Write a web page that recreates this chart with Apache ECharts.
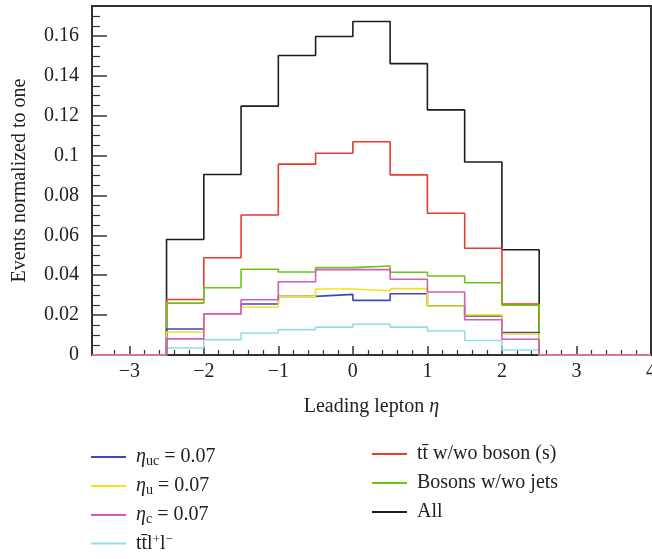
<!DOCTYPE html>
<html>
<head>
<meta charset="utf-8">
<script src="https://cdn.jsdelivr.net/npm/echarts@6/dist/echarts.min.js"></script>
<style>
html,body{margin:0;padding:0;background:#fff;}
#c{width:652px;height:559px;}
</style>
</head>
<body>
<div id="c"></div>
<script>
// Bin edges (leading lepton eta) and normalized event fractions per bin
const binEdges = [-2.5, -2, -1.5, -1, -0.5, 0, 0.5, 1, 1.5, 2, 2.5];
const xRange = [-3.5, 4];
const yRange = [0, 0.175];
const xMajorTicks = [-3, -2, -1, 0, 1, 2, 3, 4];
const yMajorTicks = [0, 0.02, 0.04, 0.06, 0.08, 0.1, 0.12, 0.14, 0.16];

const allEvents = [0.0579, 0.0905, 0.1248, 0.1502, 0.1597, 0.1672, 0.1461, 0.1229, 0.0968, 0.0528];
const ttbarBoson = [0.0278, 0.0488, 0.0702, 0.0957, 0.1012, 0.1069, 0.0903, 0.0711, 0.0535, 0.0255];
const bosonsJets = [0.0260, 0.0337, 0.0430, 0.0416, 0.0438, 0.0446, 0.0415, 0.0396, 0.0362, 0.0250];
const etaC = [0.0081, 0.0206, 0.0277, 0.0367, 0.0428, 0.0428, 0.0380, 0.0316, 0.0177, 0.0079];
const etaU = [0.0115, 0.0204, 0.0241, 0.0294, 0.0331, 0.0322, 0.0333, 0.0246, 0.0201, 0.0105];
const etaUC = [0.0130, 0.0205, 0.0256, 0.0294, 0.0304, 0.0274, 0.0307, 0.0247, 0.0196, 0.0113];
const ttll = [0.0035, 0.0077, 0.0110, 0.0127, 0.0140, 0.0154, 0.0140, 0.0120, 0.0073, 0.0025];

const FONT = 'Liberation Serif';
const FS = 20;
const AX = '#333';
const TXT = '#222';

function histPoints(vals) {
  const pts = [[xRange[0], 0]];
  for (let i = 0; i < vals.length; i++) pts.push([binEdges[i], vals[i]]);
  pts.push([binEdges[binEdges.length - 1], 0]);
  pts.push([xRange[1], 0]);
  return pts;
}

const seriesDefs = [
  {name: 'ttll', data: ttll, color: '#92dde6'},
  {name: 'all', data: allEvents, color: '#1e1e1e'},
  {name: 'ttbar', data: ttbarBoson, color: '#e63b2e'},
  {name: 'bosons', data: bosonsJets, color: '#6cc414'},
  {name: 'etaUC', data: etaUC, color: '#4048b4'},
  {name: 'etaU', data: etaU, color: '#f6e21c'},
  {name: 'etaC', data: etaC, color: '#cf5cc2'}
];

const legendText = {
  etaUC: '{i|η}{sb|uc}{n| = 0.07}',
  etaU: '{i|η}{sb|u}{n| = 0.07}',
  etaC: '{i|η}{sb|c}{n| = 0.07}',
  ttll: '{n|tt\u0304l}{sp|+}{n|l}{sp|\u2212}',
  ttbar: '{n|tt\u0304 w/wo boson (s)}',
  bosons: '{n|Bosons w/wo jets}',
  all: '{n|All}'
};

const rich = {
  n: {fontFamily: FONT, fontSize: FS, lineHeight: 24, color: TXT},
  i: {fontFamily: FONT, fontSize: FS, lineHeight: 24, color: TXT, fontStyle: 'italic'},
  sb: {fontFamily: FONT, fontSize: 14, lineHeight: 16, padding: [8, 0, 0, 0], color: TXT},
  sp: {fontFamily: FONT, fontSize: 13, lineHeight: 16, padding: [0, 0, 8, 0], color: TXT}
};

function makeLegend(names, left, top, gap) {
  return {
    data: names,
    orient: 'vertical',
    left: left,
    top: top,
    icon: 'rect',
    itemWidth: 35,
    itemHeight: 2,
    itemGap: gap,
    padding: 0,
    selectedMode: false,
    formatter: n => legendText[n],
    textStyle: {fontFamily: FONT, fontSize: FS, color: TXT, padding: [0, 0, 0, 5], rich: rich}
  };
}

const xMinor = [];
for (let k = Math.round(xRange[0] * 5) + 1; k < Math.round(xRange[1] * 5); k++) {
  if (k % 5 !== 0) xMinor.push(k / 5);
}
const yMinor = [];
for (let k = 1; k * 0.005 < yRange[1] - 1e-9; k++) {
  if (k % 4 !== 0) yMinor.push(+(k * 0.005).toFixed(4));
}

const chart = echarts.init(document.getElementById('c'), null, {renderer: 'canvas'});
chart.setOption({
  animation: false,
  backgroundColor: '#fff',
  grid: {left: 92, right: 1, top: 6, bottom: 204, show: true, borderColor: AX, borderWidth: 2,
    backgroundColor: 'transparent', outerBoundsMode: 'none', containLabel: false},
  legend: [
    makeLegend(['etaUC', 'etaU', 'etaC', 'ttll'], 91, 446, 7),
    makeLegend(['ttbar', 'bosons', 'all'], 372, 444, 9)
  ],
  xAxis: [{
    type: 'value', min: xRange[0], max: xRange[1],
    name: 'Leading lepton {i|η}', nameLocation: 'middle', nameGap: 42,
    nameTextStyle: {fontFamily: FONT, fontSize: FS, color: TXT, rich: {i: {fontFamily: FONT, fontSize: FS, fontStyle: 'italic', color: TXT}}},
    axisLine: {show: true, onZero: false, lineStyle: {color: AX, width: 2}},
    axisTick: {show: true, inside: true, length: 9, customValues: xMajorTicks, lineStyle: {color: AX, width: 1.5}},
    axisLabel: {customValues: xMajorTicks, margin: 7, fontFamily: FONT, fontSize: FS, color: TXT,
      formatter: v => (v < 0 ? '\u2212' + Math.abs(v) : String(v))},
    splitLine: {show: false}
  }, {
    type: 'value', min: xRange[0], max: xRange[1], position: 'bottom',
    axisLine: {show: false, onZero: false},
    axisTick: {show: true, inside: true, length: 5, customValues: xMinor, lineStyle: {color: AX, width: 1.2}},
    axisLabel: {show: false},
    splitLine: {show: false}
  }],
  yAxis: [{
    type: 'value', min: yRange[0], max: yRange[1],
    name: 'Events normalized to one', nameLocation: 'middle', nameGap: 62,
    nameTextStyle: {fontFamily: FONT, fontSize: FS, color: TXT},
    axisLine: {show: true, onZero: false, lineStyle: {color: AX, width: 2}},
    axisTick: {show: true, inside: true, length: 15, customValues: yMajorTicks, lineStyle: {color: AX, width: 1.5}},
    axisLabel: {customValues: yMajorTicks, margin: 13, fontFamily: FONT, fontSize: FS, color: TXT,
      formatter: v => (v === 0 ? '0' : String(+v.toFixed(2)))},
    splitLine: {show: false}
  }, {
    type: 'value', min: yRange[0], max: yRange[1], position: 'left',
    axisLine: {show: false, onZero: false},
    axisTick: {show: true, inside: true, length: 8, customValues: yMinor, lineStyle: {color: AX, width: 1.2}},
    axisLabel: {show: false},
    splitLine: {show: false}
  }],
  series: seriesDefs.map(s => ({
    name: s.name,
    type: 'line',
    step: 'end',
    xAxisIndex: 0, yAxisIndex: 0,
    data: histPoints(s.data),
    symbol: 'none',
    color: s.color,
    lineStyle: {color: s.color, width: 1.6},
    clip: false
  }))
});
</script>
</body>
</html>
